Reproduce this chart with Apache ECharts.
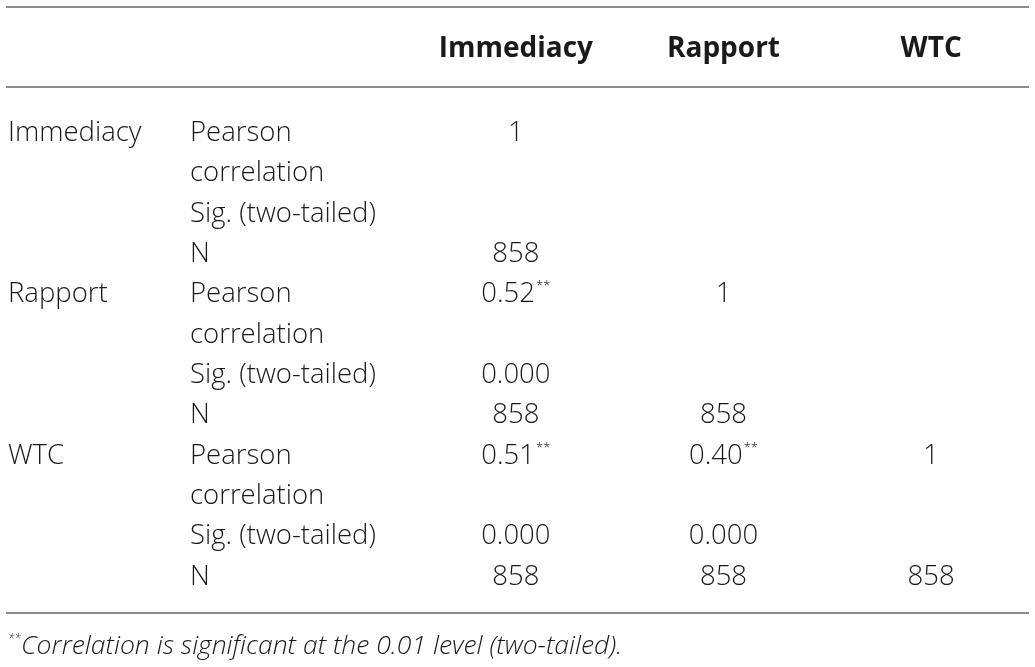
<!DOCTYPE html>
<html>
<head>
<meta charset="utf-8">
<script src="https://cdn.jsdelivr.net/npm/echarts@6.0.0/dist/echarts.min.js"></script>
<style>
  html, body { margin: 0; padding: 0; background: #fff; }
  #main { width: 1035px; height: 667px; }
</style>
</head>
<body>
<div id="main"></div>
<script>
// table contents
var variables = ['Immediacy', 'Rapport', 'WTC'];
var statLines = ['Pearson', 'correlation', 'Sig. (two-tailed)', 'N'];
var pearson = [[1], [0.52, 1], [0.51, 0.40, 1]];
var sigValues = [[], [0.000], [0.000, 0.000]];
var nValues = [[858], [858, 858], [858, 858, 858]];
var footnote = 'Correlation is significant at the 0.01 level (two-tailed).';

var FONT = 'Open Sans';
var TEXT = '#1a1a1a';
var RULE = '#8c8c8c';
var SIZE = 27.5;

// one y category per printed line
var lineLabels = [];
variables.forEach(function (v, g) {
  statLines.forEach(function (s, k) {
    lineLabels.push(g * 4 + k);
  });
});

var cells = [];
variables.forEach(function (v, row) {
  pearson[row].forEach(function (r, col) {
    var txt = row === col ? String(r) : r.toFixed(2) + '{sup|**}';
    cells.push([col, row * 4, txt]);
  });
  sigValues[row].forEach(function (p, col) {
    cells.push([col, row * 4 + 2, p.toFixed(3)]);
  });
  nValues[row].forEach(function (n, col) {
    cells.push([col, row * 4 + 3, String(n)]);
  });
});

var myChart = echarts.init(document.getElementById('main'));
var option = {
  animation: false,
  title: {
    left: 3,
    top: 628,
    text: '{sup|**}' + footnote,
    textStyle: {
      fontFamily: FONT,
      fontSize: 26.5,
      fontWeight: 300,
      fontStyle: 'italic',
      color: TEXT,
      rich: {
        sup: { fontFamily: FONT, fontSize: 12, color: TEXT, padding: [0, 0, 14, 0] }
      }
    }
  },
  grid: {
    left: 412,
    top: 113,
    width: 627,
    height: 484
  },
  xAxis: {
    type: 'category',
    position: 'top',
    data: variables,
    axisLine: { show: false },
    axisTick: { show: false },
    splitLine: { show: false },
    axisLabel: {
      interval: 0,
      margin: 64,
      verticalAlign: 'middle',
      fontFamily: FONT,
      fontSize: 28,
      fontWeight: 'bold',
      color: TEXT
    }
  },
  yAxis: {
    type: 'category',
    inverse: true,
    data: lineLabels,
    axisLine: { show: false },
    axisTick: { show: false },
    splitLine: { show: false },
    axisLabel: {
      interval: 0,
      margin: 404,
      align: 'left',
      fontFamily: FONT,
      fontSize: SIZE,
      fontWeight: 300,
      color: TEXT,
      formatter: function (val, idx) {
        var g = Math.floor(idx / 4), k = idx % 4;
        var head = k === 0 ? variables[g] : ' ';
        return '{g|' + head + '}{s|' + statLines[k] + '}';
      },
      rich: {
        g: { width: 182, fontFamily: FONT, fontSize: SIZE, fontWeight: 300, color: TEXT },
        s: { fontFamily: FONT, fontSize: SIZE, fontWeight: 300, color: TEXT }
      }
    }
  },
  graphic: [
    { type: 'line', shape: { x1: 6, y1: 7, x2: 1029, y2: 7 }, style: { stroke: RULE, lineWidth: 2 } },
    { type: 'line', shape: { x1: 6, y1: 87, x2: 1029, y2: 87 }, style: { stroke: RULE, lineWidth: 2 } },
    { type: 'line', shape: { x1: 6, y1: 613, x2: 1029, y2: 613 }, style: { stroke: RULE, lineWidth: 2 } }
  ],
  series: [{
    type: 'scatter',
    data: cells,
    symbolSize: 0,
    itemStyle: { color: TEXT, opacity: 1 },
    silent: true,
    label: {
      show: true,
      position: 'inside',
      opacity: 1,
      formatter: function (p) { return p.data[2]; },
      fontFamily: FONT,
      fontSize: SIZE,
      fontWeight: 300,
      color: TEXT,
      textBorderWidth: 0,
      rich: {
        sup: { fontFamily: FONT, fontSize: 13, color: TEXT, textBorderWidth: 0, padding: [0, 0, 16, 1] }
      }
    }
  }]
};
myChart.setOption(option);
window.addEventListener('resize', function () {
  myChart.resize();
});
</script>
</body>
</html>
